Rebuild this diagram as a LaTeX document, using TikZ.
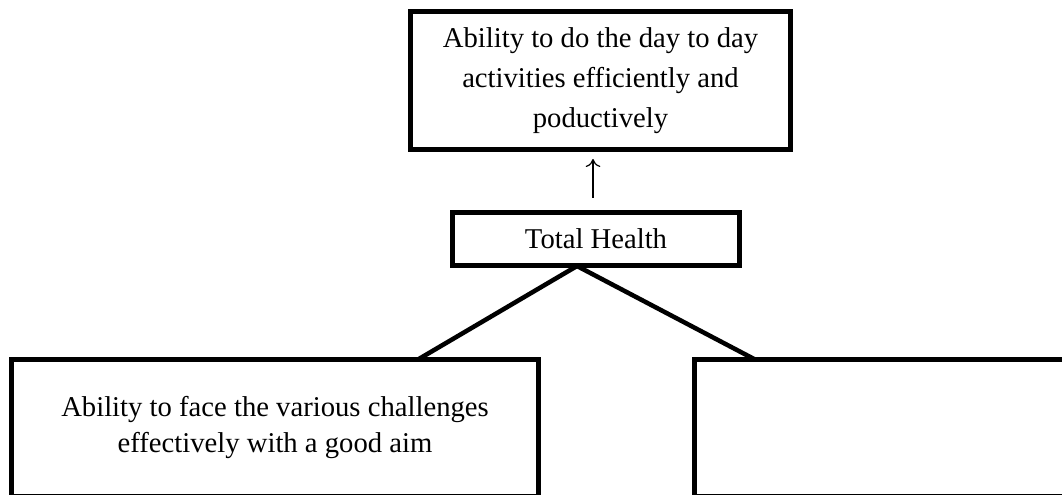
\documentclass[tikz,border=0pt]{standalone}
\usepackage{fontspec}
\setmainfont{Liberation Serif}
\usetikzlibrary{arrows.meta}
\begin{document}
\begin{tikzpicture}[x=0.75pt,y=-0.75pt,
  box/.style={draw=black,line width=3.75pt,rectangle,inner sep=0pt,align=center,
    font=\fontsize{21.5}{30}\selectfont},
  link/.style={line width=3.4pt,black},
  arr/.style={line width=0.9pt,-{To[length=6pt,width=11pt,line width=0.9pt]}}]
\useasboundingbox (0,0) rectangle (1062,495);
\clip (0,0) rectangle (1062,495);
\fill[white] (0,0) rectangle (1062,495);
% top box
\node[box,minimum width=285pt,minimum height=103.5pt] (top) at (600.5,80.5)
  {Ability to do the day to day\\activities efficiently and\\poductively};
% total health
\node[box,minimum width=215.25pt,minimum height=39.75pt] (th) at (596,239)
  {Total Health};
% bottom boxes
\node[box,minimum width=395.25pt,minimum height=102.4pt,
  font=\fontsize{21.5}{27}\selectfont] (lb) at (275,427.75)
  {Ability to face the various challenges\\effectively with a good aim};
\node[box,minimum width=304pt,minimum height=102.4pt] (rb) at (897,427.75) {};
% connectors
\coordinate (apex) at (577,266);
\coordinate (lend) at (418,359.5);
\coordinate (rend) at (755,359.5);
\draw[link] (apex) -- (lend);
\draw[link] (apex) -- (rend);
\coordinate (abot) at (593,198);
\coordinate (atop) at (593,159);
\draw[arr] (abot) -- (atop);
\end{tikzpicture}
\end{document}
